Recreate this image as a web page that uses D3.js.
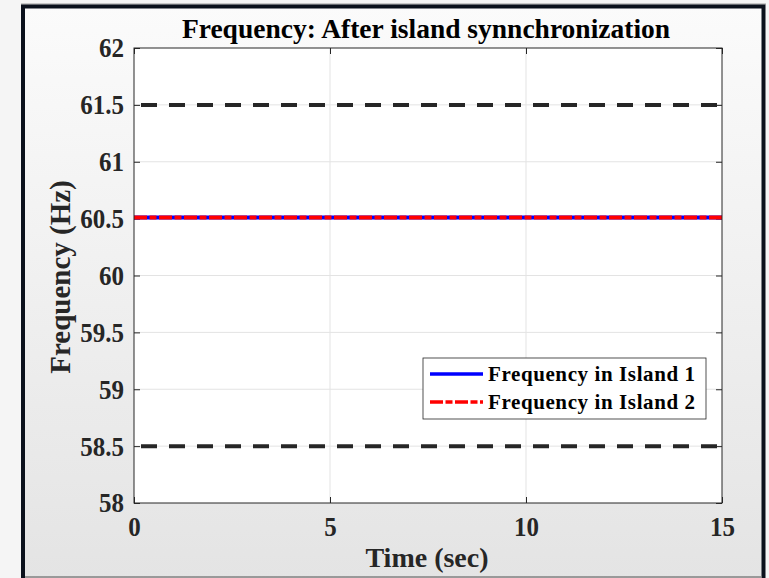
<!doctype html>
<html>
  <head>
    <script src="https://cdnjs.cloudflare.com/ajax/libs/d3/7.8.5/d3.min.js"></script>
    <style>
      body { margin: 0; background: #f5f5f5; }
      text { font-family: "Liberation Serif", "Times New Roman", serif; font-weight: bold; fill: #262626; }
    </style>
  </head>
  <body>
    <svg id="chart" width="769" height="578"></svg>

    <script>
        // data
        var timeSec = [0, 15];
        var freqIsland1 = [60.51, 60.51];
        var freqIsland2 = [60.51, 60.51];
        var upperLimit = [61.5, 61.5];
        var lowerLimit = [58.5, 58.5];
        var xTicks = [0, 5, 10, 15];
        var yTicks = [58, 58.5, 59, 59.5, 60, 60.5, 61, 61.5, 62];
        var legendLabels = ["Frequency in Island 1", "Frequency in Island 2"];

        var svg = d3.select("#chart");

        // slide frame behind the figure
        var grad = svg.append("defs").append("linearGradient")
            .attr("id", "bg").attr("x1", 0).attr("y1", 0).attr("x2", 0).attr("y2", 1);
        grad.append("stop").attr("offset", "0%").attr("stop-color", "#fbfbfb");
        grad.append("stop").attr("offset", "100%").attr("stop-color", "#e4e4e4");

        svg.append("rect").attr("x", 23).attr("y", 6).attr("width", 741).attr("height", 572)
            .style("fill", "url(#bg)");
        svg.append("line").attr("x1", 21).attr("x2", 766).attr("y1", 4).attr("y2", 4)
            .style("stroke", "#9a9a9a").style("stroke-width", 1);
        svg.append("path").attr("d", "M23,578 V6.5 H763.5 V578")
            .style("fill", "none").style("stroke", "#0b111c").style("stroke-width", 4);
        svg.append("line").attr("x1", 25).attr("x2", 762).attr("y1", 577).attr("y2", 577)
            .style("stroke", "#808080").style("stroke-width", 1.5);

        var pLeft = 134, pRight = 722, pTop = 48, pBottom = 503;

        var x = d3.scaleLinear().domain([0, 15]).range([pLeft, pRight]);
        var y = d3.scaleLinear().domain([58, 62]).range([pBottom, pTop]);

        svg.append("rect").attr("x", pLeft).attr("y", pTop)
            .attr("width", pRight - pLeft).attr("height", pBottom - pTop)
            .style("fill", "white");

        // grid
        svg.append("g").selectAll("line").data(xTicks.slice(1, -1)).enter().append("line")
            .attr("x1", d => x(d)).attr("x2", d => x(d)).attr("y1", pTop).attr("y2", pBottom)
            .style("stroke", "#e3e3e3").style("stroke-width", 1);
        svg.append("g").selectAll("line").data(yTicks.slice(1, -1)).enter().append("line")
            .attr("x1", pLeft).attr("x2", pRight).attr("y1", d => y(d)).attr("y2", d => y(d))
            .style("stroke", "#e3e3e3").style("stroke-width", 1);

        // axes, MATLAB style: ticks inside on all four sides
        // the source font looks a bit taller than Times, so stretch it vertically
        var axStyle = g => {
            g.selectAll("path").remove();
            g.selectAll("line").style("stroke", "#262626");
            g.selectAll("text").style("font-size", "25px").style("fill", "#262626")
              .style("font-family", "'Liberation Serif', serif").style("font-weight", "bold")
              .attr("transform", "scale(1,1.12)");
        };
        svg.append("g").attr("transform", "translate(0," + pBottom + ")")
            .call(d3.axisBottom(x).tickValues(xTicks).tickFormat(d3.format("d"))
                  .tickSizeInner(-6).tickPadding(12))
            .call(axStyle);
        svg.append("g").attr("transform", "translate(0," + pTop + ")")
            .call(d3.axisTop(x).tickValues(xTicks).tickSizeInner(-6).tickFormat(""))
            .call(axStyle);
        svg.append("g").attr("transform", "translate(" + pLeft + ",0)")
            .call(d3.axisLeft(y).tickValues(yTicks).tickFormat(d => d3.format("")(d))
                  .tickSizeInner(-6).tickPadding(10))
            .call(axStyle);
        svg.append("g").attr("transform", "translate(" + pRight + ",0)")
            .call(d3.axisRight(y).tickValues(yTicks).tickSizeInner(-6).tickFormat(""))
            .call(axStyle);

        var line = d3.line().x(d => x(d[0])).y(d => y(d[1]));
        var pairs = arr => timeSec.map((t, i) => [t, arr[i]]);

        // limits
        [upperLimit, lowerLimit].forEach(lim => {
            svg.append("path").datum(pairs(lim)).attr("d", line)
                .style("fill", "none").style("stroke", "#262626")
                .style("stroke-width", 4).style("stroke-dasharray", "16,12")
                .style("stroke-dashoffset", -7);
        });

        svg.append("path").datum(pairs(freqIsland1)).attr("d", line)
            .style("fill", "none").style("stroke", "#0000ff").style("stroke-width", 4);
        svg.append("path").datum(pairs(freqIsland2)).attr("d", line)
            .style("fill", "none").style("stroke", "#ff0000").style("stroke-width", 4)
            .style("stroke-dasharray", "13,2.5,7,2.5");

        // box
        svg.append("rect").attr("x", pLeft).attr("y", pTop)
            .attr("width", pRight - pLeft).attr("height", pBottom - pTop)
            .style("fill", "none").style("stroke", "#262626").style("stroke-width", 1);

        // legend
        var lg = svg.append("g").attr("transform", "translate(423,358)");
        lg.append("rect").attr("width", 283).attr("height", 61)
            .style("fill", "white").style("stroke", "#262626").style("stroke-width", 0.8);
        var styles = [
            {c: "#0000ff", dash: null},
            {c: "#ff0000", dash: "13,2.5,7,2.5"}
        ];
        legendLabels.forEach((lab, i) => {
            var yy = 16 + i * 28;
            lg.append("line").attr("x1", 7).attr("x2", 60).attr("y1", yy).attr("y2", yy)
                .style("stroke", styles[i].c).style("stroke-width", 3.5)
                .style("stroke-dasharray", styles[i].dash);
            lg.append("text").attr("x", 65).attr("y", yy + 7).text(lab)
                .style("font-size", "21px").style("fill", "black").style("letter-spacing", "0.6px");
        });

        // titles
        svg.append("text").attr("x", 426).attr("y", 38).attr("text-anchor", "middle")
            .style("font-size", "27.5px").style("fill", "black")
            .text("Frequency: After island synnchronization");
        svg.append("text").attr("x", 427).attr("y", 567).attr("text-anchor", "middle")
            .style("font-size", "28px")
            .text("Time (sec)");
        svg.append("text").attr("transform", "translate(70,277) rotate(-90)")
            .attr("text-anchor", "middle").style("font-size", "29px")
            .text("Frequency (Hz)");
    </script>
  </body>
</html>
